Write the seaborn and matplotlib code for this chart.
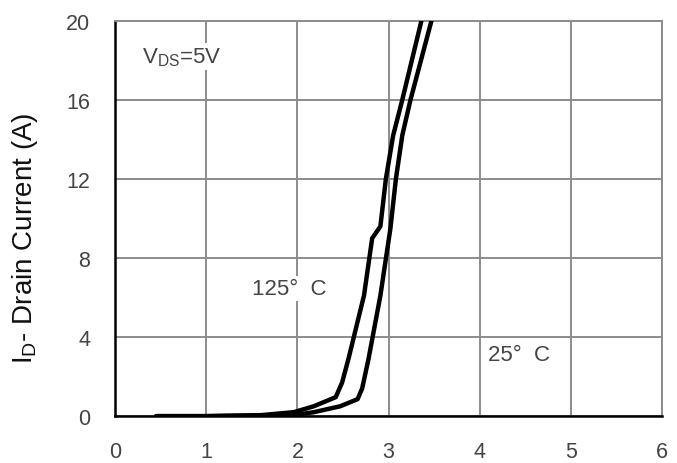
import pandas as pd
import seaborn as sns
import matplotlib.pyplot as plt

# values
vgs_125 = [0.45, 1.0, 1.6, 1.96, 2.18, 2.42, 2.49, 2.56, 2.73, 2.82, 2.91, 2.97, 3.05, 3.15, 3.36]
id_125 = [0.0, 0.0, 0.05, 0.2, 0.5, 0.96, 1.7, 2.9, 6.1, 9.0, 9.6, 12.0, 14.2, 16.0, 20.0]
vgs_25 = [0.45, 1.0, 1.6, 2.0, 2.18, 2.47, 2.66, 2.71, 2.78, 2.91, 3.02, 3.08, 3.15, 3.24, 3.47]
id_25 = [0.0, 0.0, 0.03, 0.08, 0.2, 0.5, 0.86, 1.4, 2.9, 6.1, 9.5, 12.0, 14.2, 16.0, 20.0]

x_ticks = [0, 1, 2, 3, 4, 5, 6]
y_ticks = [0, 4, 8, 12, 16, 20]

df125 = pd.DataFrame({"Vgs": vgs_125, "Id": id_125})
df25 = pd.DataFrame({"Vgs": vgs_25, "Id": id_25})

sns.set_style("white")
plt.rcParams['font.family'] = ['Liberation Sans', 'DejaVu Sans']

fig = plt.figure(figsize=(6.77, 4.64), dpi=100)
ax = fig.add_axes([0.170, 0.101, 0.808, 0.852])

sns.lineplot(data=df125, x="Vgs", y="Id", sort=False, estimator=None,
             color="black", linewidth=3.2, ax=ax, zorder=4)
sns.lineplot(data=df25, x="Vgs", y="Id", sort=False, estimator=None,
             color="black", linewidth=3.2, ax=ax, zorder=4)

ax.set_xlim(0, 6)
ax.set_ylim(0, 20)
ax.set_xticks(x_ticks)
ax.set_yticks(y_ticks)
ax.grid(True, color="#8c8c8c", linewidth=1.4)
ax.set_axisbelow(True)

for s in ["top", "right"]:
    ax.spines[s].set_color("#8c8c8c")
    ax.spines[s].set_linewidth(1.4)
for s in ["left", "bottom"]:
    ax.spines[s].set_color("black")
    ax.spines[s].set_linewidth(1.8)

ax.tick_params(axis="both", length=0, labelsize=15.5, labelcolor="#444444")
ax.tick_params(axis="x", pad=18)
ax.tick_params(axis="y", pad=18)

ax.set_xlabel("")
ax.set_ylabel(r"I$_\mathregular{D}$- Drain Current (A)", fontsize=20, color="#111111")
ax.yaxis.set_label_coords(-0.137, 0.453)

box = dict(facecolor="white", edgecolor="none", pad=1.5)
ax.text(0.30, 18.2, r"V$_\mathregular{DS}$=5V", fontsize=16, color="#444444",
        va="center", ha="left", bbox=box, zorder=3)
ax.text(1.50, 6.48, "125°  C", fontsize=16, color="#444444",
        va="center", ha="left", bbox=box, zorder=3)
ax.text(4.09, 3.14, "25°  C", fontsize=16, color="#444444",
        va="center", ha="left", bbox=box, zorder=3)

fig.savefig("out.png", dpi=100)
